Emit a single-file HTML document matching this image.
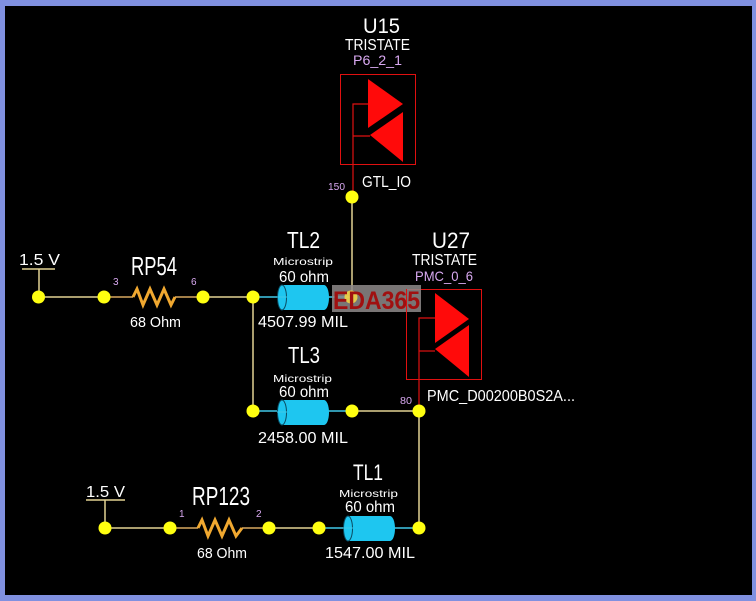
<!DOCTYPE html>
<html><head><meta charset="utf-8"><style>
html,body{margin:0;padding:0;background:#000;}
svg{display:block;}
text{font-family:"Liberation Sans",sans-serif;}
</style></head><body>
<svg width="756" height="601" viewBox="0 0 756 601" xmlns="http://www.w3.org/2000/svg">
<rect x="0" y="0" width="756" height="601" fill="#8090e0"/>
<rect x="5" y="6" width="747" height="589" fill="#000"/>

<!-- wires -->
<g stroke="#e2d292" stroke-width="1.5" fill="none">
<line x1="22" y1="269" x2="55" y2="269"/>
<line x1="39" y1="269" x2="39" y2="297"/>
<line x1="39" y1="297" x2="104" y2="297"/>
<line x1="203" y1="297" x2="253" y2="297"/>
<line x1="253" y1="297" x2="253" y2="411"/>
<line x1="352" y1="197" x2="352" y2="297"/>
<line x1="352" y1="411" x2="419" y2="411"/>
<line x1="419" y1="411" x2="419" y2="528"/>
<line x1="86" y1="500" x2="125" y2="500"/>
<line x1="105" y1="500" x2="105" y2="528"/>
<line x1="105" y1="528" x2="170" y2="528"/>
<line x1="269" y1="528" x2="319" y2="528"/>
</g>
<!-- resistor leads -->
<g stroke="#d8a860" stroke-width="1.5" fill="none">
<line x1="104" y1="297" x2="133" y2="297"/>
<line x1="175" y1="297" x2="203" y2="297"/>
<line x1="170" y1="528" x2="198" y2="528"/>
<line x1="242" y1="528" x2="269" y2="528"/>
</g>
<!-- resistors -->
<g stroke="#f0a830" stroke-width="3" fill="none" stroke-linejoin="miter">
<polyline points="133,297 137,289 143,305 150,289 157,305 164,289 171,305 175,297"/>
<polyline points="198,528 202,520 208,536 215,520 222,536 229,520 236,536 242,528"/>
</g>
<!-- cyan connector lines -->
<g stroke="#40c8e8" stroke-width="1.5">
<line x1="253" y1="297" x2="352" y2="297"/>
<line x1="253" y1="411" x2="352" y2="411"/>
<line x1="319" y1="528" x2="419" y2="528"/>
</g>
<!-- cylinders -->
<g fill="#1ec6f0">
<path d="M282,285 L324,285 A5,12.5 0 0 1 324,310 L282,310 Z"/>
<path d="M282,400 L324,400 A5,12.5 0 0 1 324,425 L282,425 Z"/>
<path d="M348,516 L390,516 A5,12.5 0 0 1 390,541 L348,541 Z"/>
</g>
<g fill="#1ec6f0" stroke="#0a4a60" stroke-width="1">
<ellipse cx="282" cy="297.5" rx="4.5" ry="12.5"/>
<ellipse cx="282" cy="412.5" rx="4.5" ry="12.5"/>
<ellipse cx="348" cy="528.5" rx="4.5" ry="12.5"/>
</g>
<g stroke="#40c8e8" stroke-width="1">
<line x1="277" y1="297" x2="287" y2="297"/>
<line x1="277" y1="412" x2="287" y2="412"/>
<line x1="343" y1="528" x2="353" y2="528"/>
</g>

<!-- U15 component -->
<rect x="340.5" y="74.5" width="75" height="90" fill="none" stroke="#e01010" stroke-width="1"/>
<polygon points="368,79 403,104 368,128" fill="#ff0a0a"/>
<polygon points="403,112 403,162 370,135" fill="#ff0a0a"/>
<g stroke="#e01010" stroke-width="1.2" fill="none">
<polyline points="368,104 353,104 353,197"/>
<line x1="353" y1="136" x2="370" y2="136"/>
</g>

<!-- U27 component -->
<rect x="406.5" y="289.5" width="75" height="90" fill="none" stroke="#e01010" stroke-width="1"/>
<polygon points="435,293 469,319 435,343" fill="#ff0a0a"/>
<polygon points="469,325 469,377 435,349" fill="#ff0a0a"/>
<g stroke="#e01010" stroke-width="1.2" fill="none">
<polyline points="435,318 419,318 419,411"/>
<line x1="419" y1="351" x2="435" y2="351"/>
</g>

<!-- watermark box -->
<rect x="332" y="285" width="89" height="27" fill="#8e8a8a" fill-opacity="0.85"/>

<!-- dots -->
<g fill="#ffff10">
<circle cx="38.5" cy="297" r="6.5"/>
<circle cx="104" cy="297" r="6.5"/>
<circle cx="203" cy="297" r="6.5"/>
<circle cx="253" cy="297" r="6.5"/>
<circle cx="352" cy="197" r="6.5"/>
<circle cx="253" cy="411" r="6.5"/>
<circle cx="352" cy="411" r="6.5"/>
<circle cx="419" cy="411" r="6.5"/>
<circle cx="105" cy="528" r="6.5"/>
<circle cx="170" cy="528" r="6.5"/>
<circle cx="269" cy="528" r="6.5"/>
<circle cx="319" cy="528" r="6.5"/>
<circle cx="419" cy="528" r="6.5"/>
</g>
<circle cx="351" cy="297" r="6.5" fill="#ffe040" fill-opacity="0.8"/>
<line x1="406.5" y1="289" x2="406.5" y2="312" stroke="#e01010" stroke-width="1"/>
<text x="333" y="309" font-size="25" font-weight="bold" fill="#a01010" textLength="87" lengthAdjust="spacingAndGlyphs">EDA365</text>

<!-- white labels -->
<g fill="#ffffff">
<text x="363" y="33" font-size="21" textLength="37" lengthAdjust="spacingAndGlyphs">U15</text>
<text x="345" y="50" font-size="16" textLength="65" lengthAdjust="spacingAndGlyphs">TRISTATE</text>
<text x="362" y="187" font-size="16" textLength="49" lengthAdjust="spacingAndGlyphs">GTL_IO</text>

<text x="19" y="265" font-size="16" textLength="41" lengthAdjust="spacingAndGlyphs">1.5 V</text>
<text x="131" y="275" font-size="26" textLength="46" lengthAdjust="spacingAndGlyphs">RP54</text>
<text x="130" y="327" font-size="15" textLength="51" lengthAdjust="spacingAndGlyphs">68 Ohm</text>

<text x="287" y="248" font-size="23" textLength="33" lengthAdjust="spacingAndGlyphs">TL2</text>
<text x="273" y="265" font-size="10" textLength="60" lengthAdjust="spacingAndGlyphs">Microstrip</text>
<text x="279" y="282" font-size="16" textLength="50" lengthAdjust="spacingAndGlyphs">60 ohm</text>
<text x="258" y="327" font-size="16" textLength="90" lengthAdjust="spacingAndGlyphs">4507.99 MIL</text>

<text x="432" y="248" font-size="22" textLength="38" lengthAdjust="spacingAndGlyphs">U27</text>
<text x="412" y="265" font-size="16" textLength="65" lengthAdjust="spacingAndGlyphs">TRISTATE</text>
<text x="427" y="401" font-size="16" textLength="148" lengthAdjust="spacingAndGlyphs">PMC_D00200B0S2A...</text>

<text x="288" y="363" font-size="23" textLength="32" lengthAdjust="spacingAndGlyphs">TL3</text>
<text x="273" y="382" font-size="10" textLength="59" lengthAdjust="spacingAndGlyphs">Microstrip</text>
<text x="279" y="397" font-size="16" textLength="50" lengthAdjust="spacingAndGlyphs">60 ohm</text>
<text x="258" y="443" font-size="16" textLength="90" lengthAdjust="spacingAndGlyphs">2458.00 MIL</text>

<text x="86" y="497" font-size="16" textLength="39" lengthAdjust="spacingAndGlyphs">1.5 V</text>
<text x="192" y="505" font-size="26" textLength="58" lengthAdjust="spacingAndGlyphs">RP123</text>
<text x="197" y="558" font-size="15" textLength="50" lengthAdjust="spacingAndGlyphs">68 Ohm</text>

<text x="353" y="480" font-size="22" textLength="30" lengthAdjust="spacingAndGlyphs">TL1</text>
<text x="339" y="497" font-size="10" textLength="59" lengthAdjust="spacingAndGlyphs">Microstrip</text>
<text x="345" y="512" font-size="16" textLength="50" lengthAdjust="spacingAndGlyphs">60 ohm</text>
<text x="325" y="558" font-size="16" textLength="90" lengthAdjust="spacingAndGlyphs">1547.00 MIL</text>
</g>

<!-- lavender labels -->
<g fill="#d8a8f0">
<text x="353" y="65" font-size="14" textLength="49" lengthAdjust="spacingAndGlyphs">P6_2_1</text>
<text x="415" y="281" font-size="14" textLength="58" lengthAdjust="spacingAndGlyphs">PMC_0_6</text>
<text x="328" y="190" font-size="10" textLength="17" lengthAdjust="spacingAndGlyphs">150</text>
<text x="400" y="404" font-size="10" textLength="12" lengthAdjust="spacingAndGlyphs">80</text>
<text x="113" y="285" font-size="10">3</text>
<text x="191" y="285" font-size="10">6</text>
<text x="179" y="517" font-size="10">1</text>
<text x="256" y="517" font-size="10">2</text>
</g>
</svg>
</body></html>
